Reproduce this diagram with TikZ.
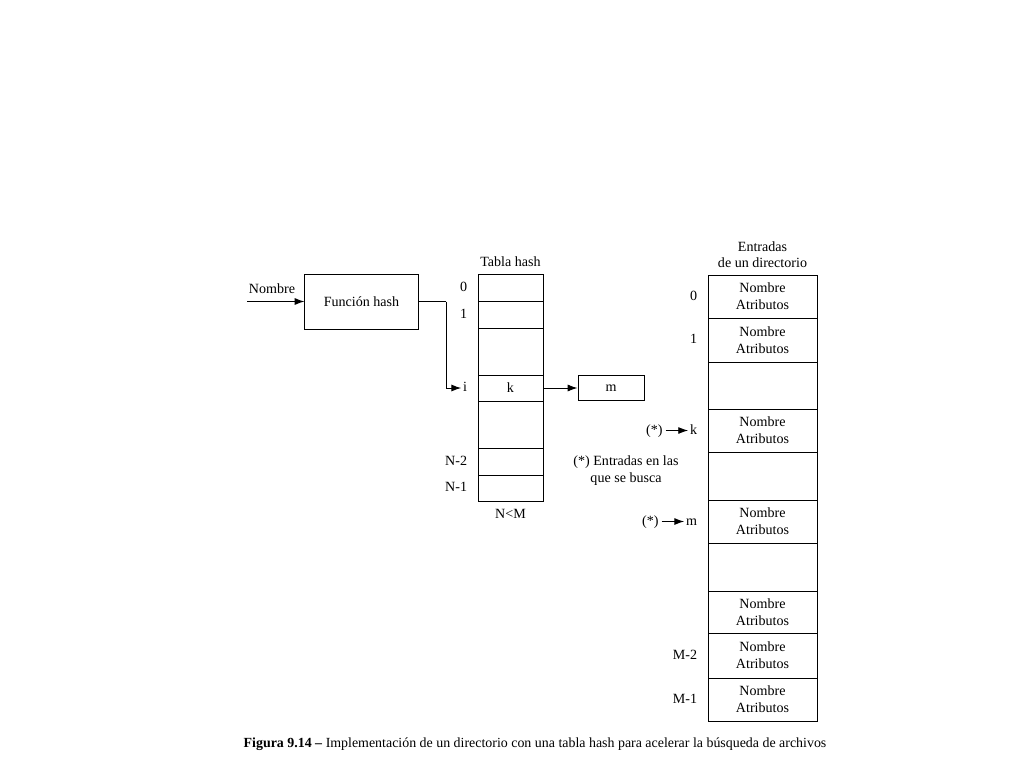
\documentclass[tikz,border=0pt]{standalone}
\usepackage{fontspec}
\setmainfont{Liberation Serif}
\usetikzlibrary{arrows.meta,positioning}
\tikzset{
  box/.style={draw,line width=0.7pt,inner sep=0pt,align=center},
  hcell/.style={box,minimum width=1.625cm},
  dcell/.style={box,minimum width=2.725cm},
  lbl/.style={left=6pt,inner sep=1.2pt,text height=1.6ex,text depth=0.4ex},
  star/.style={inner sep=2pt,text height=1.6ex,text depth=0.4ex},
  arr/.style={line width=0.7pt,-{Latex[length=7pt,width=5pt]}},
}
\begin{document}
\begin{tikzpicture}[x=0.025cm,y=-0.025cm]
  \useasboundingbox (0,0) rectangle (1024,768);
  % funcion hash
  \node[box,minimum width=2.825cm,minimum height=1.375cm] (fh) at (361.5,301.5) {Función hash};
  \coordinate (in) at (247,301.5);
  \draw[arr] (in) -- (fh.west);
  \node (nom) at (272,289) {Nombre};
  % tabla hash
  \foreach \n/\ya/\yb/\t in {h0/274/301/,h1/301/328/,h2/328/375/,hi/375/401/k,h4/401/448/,hn2/448/475/,hn1/475/501/}
    \node[hcell,minimum height={(\yb-\ya)*0.025cm}] (\n) at (510.5,{(\ya+\yb)/2}) {\t};
  \node[above=1pt] (th) at (h0.north) {Tabla hash};
  \node[below=2pt] (nm) at (hn1.south) {N<M};
  \foreach \c/\l in {h0/0,h1/1,hi/i,hn2/N-2,hn1/N-1}
    \node[lbl] (l\c) at (\c.west) {\l};
  \coordinate (bend) at (446,301.5);
  \draw[line width=0.7pt] (fh.east) -- (bend);
  \draw[arr] (bend) |- (lhi.west);
  \node[box,minimum width=1.65cm,minimum height=0.625cm] (m) at (611,388) {m};
  \draw[arr] (hi.east) -- (m.west);
  % entradas de un directorio
  \foreach \n/\ya/\yb/\t in {d0/275/318/{Nombre\\Atributos},d1/318/362/{Nombre\\Atributos},d2/362/409/,d3/409/452/{Nombre\\Atributos},d4/452/500/,d5/500/543/{Nombre\\Atributos},d6/543/591/,d7/591/633/{Nombre\\Atributos},d8/633/678/{Nombre\\Atributos},d9/678/721/{Nombre\\Atributos}}
    \node[dcell,minimum height={(\yb-\ya)*0.025cm}] (\n) at (762.5,{(\ya+\yb)/2}) {\t};
  \node[above=1pt,align=center] (ed) at (d0.north) {Entradas\\de un directorio};
  \foreach \c/\l in {d0/0,d1/1,d3/k,d5/m,d8/M-2,d9/M-1}
    \node[lbl] (l\c) at (\c.west) {\l};
  \node[star,left=16pt of ld3] (sk) {(*)};
  \draw[arr] (sk) -- (ld3);
  \node[star,left=16pt of ld5] (sm) {(*)};
  \draw[arr] (sm) -- (ld5);
  \node[align=center] (nota) at (626,471) {(*) Entradas en las\\que se busca};
  % pie
  \node (cap) at (535,744) {\fontsize{9.9}{11}\selectfont\textbf{Figura 9.14 –} Implementación de un directorio con una tabla hash para acelerar la búsqueda de archivos};
\end{tikzpicture}
\end{document}
